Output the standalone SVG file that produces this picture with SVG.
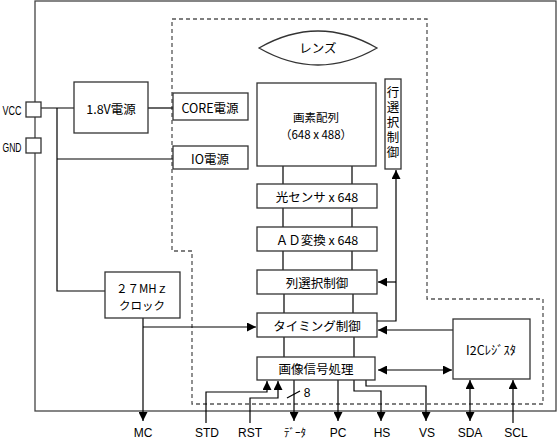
<svg xmlns="http://www.w3.org/2000/svg" width="558" height="441" viewBox="0 0 558 441">
<defs>
<marker id="ah" viewBox="0 0 10 10" refX="10" refY="5" markerWidth="9" markerHeight="9" markerUnits="userSpaceOnUse" orient="auto-start-reverse">
<path d="M0,0 L10,5 L0,10 Z" fill="#000"/>
</marker>
<style>
.box{fill:#fff;stroke:#333;stroke-width:1.3}
.ln{fill:none;stroke:#000;stroke-width:1.2}
.gl{fill:none;stroke:#444;stroke-width:1.3}
.ar{fill:none;stroke:#000;stroke-width:1.2;marker-end:url(#ah)}
.t{font-family:"Noto Sans CJK JP","Liberation Sans",sans-serif;font-size:12.5px;fill:#000;text-anchor:middle;dominant-baseline:central}
.t2{font-family:"Noto Sans CJK JP","Liberation Sans",sans-serif;font-size:11.5px;fill:#000;text-anchor:middle;dominant-baseline:central}
.s{font-family:"Liberation Sans","Noto Sans CJK JP",sans-serif;font-size:12px;fill:#000;text-anchor:middle;dominant-baseline:central}
</style>
</defs>
<rect width="558" height="441" fill="#fff"/>
<g id="frame">
<rect x="35" y="1" width="521" height="410" class="gl"/>
<path d="M172,19 H427 V299 H543 V404 H192 V251 H172 Z" fill="none" stroke="#555" stroke-width="1.3" stroke-dasharray="4,3"/>
</g>
<g id="connectors">
<path class="ln" d="M41,108 H74"/>
<path class="ln" d="M57,108 V291 H105"/>
<path class="ln" d="M57,159 H173"/>
<path class="ln" d="M148,108 H173"/>
<path class="ln" d="M283,166 V184 M352,166 V184 M283,208 V227 M352,208 V227 M283,251 V270 M352,251 V270 M284,294 V313 M353,294 V313 M284,337 V357 M354,337 V357"/>
<path class="ar" d="M377,321 H396 V170"/>
<path class="ar" d="M396,282 H378"/>
<path class="ar" d="M453,330 H378"/>
<path class="ar" d="M378,370 H452" style="marker-start:url(#ah)"/>
<path class="ar" d="M143,318 V421"/>
<path class="ar" d="M143,327 H256"/>
<path class="ar" d="M206,423 V392 H267 V381"/>
<path class="ar" d="M250,423 V398 H278 V381"/>
<path class="ar" d="M294,380 V421"/>
<path class="ln" d="M287,398 L300,391"/>
<path class="ar" d="M338,380 V421"/>
<path class="ar" d="M354,380 V391 H381 V421"/>
<path class="ar" d="M366,380 V386 H426 V421"/>
<path class="ar" d="M470,400 V421"/>
<path class="ar" d="M470,400 V380"/>
<path class="ar" d="M513,423 V380"/>
</g>
<g id="pin-vcc"><rect x="26" y="102" width="15" height="15" class="box"/><text class="s" x="12" y="110" style="font-size:13px" textLength="19" lengthAdjust="spacingAndGlyphs">VCC</text></g>
<g id="pin-gnd"><rect x="26" y="138" width="15" height="15" class="box"/><text class="s" x="12" y="147" style="font-size:13px" textLength="19" lengthAdjust="spacingAndGlyphs">GND</text></g>
<g id="reg18"><rect x="74" y="82" width="74" height="51" class="box"/><text class="t" x="111" y="108">1.8V電源</text></g>
<g id="core"><rect x="173" y="93" width="75" height="27" class="box"/><text class="t" x="210" y="107">CORE電源</text></g>
<g id="io"><rect x="173" y="146" width="75" height="23" class="box"/><text class="t" x="210" y="158">IO電源</text></g>
<g id="lens"><path d="M259,48 Q318,14 377,48 Q318,82 259,48 Z" fill="#fff" stroke="#333" stroke-width="1.3"/><text class="t" x="318" y="47">レンズ</text></g>
<g id="pixel"><rect x="257" y="83" width="119" height="83" class="box"/><text class="t2" x="316" y="116.5">画素配列</text><text class="t2" x="316" y="133.5">（648 x 488）</text></g>
<g id="rowsel"><rect x="385" y="79" width="16" height="90" class="box"/>
<text x="393" y="86" style="writing-mode:vertical-rl;letter-spacing:2.5px;font-family:'Noto Sans CJK JP',sans-serif;font-size:12.5px;fill:#000">行選択制御</text></g>
<g id="sensor"><rect x="257" y="184" width="120" height="24" class="box"/><text class="t" x="317" y="196">光センサ x 648</text></g>
<g id="adc"><rect x="257" y="227" width="120" height="24" class="box"/><text class="t" x="317" y="239">ＡＤ変換 x 648</text></g>
<g id="colsel"><rect x="257" y="270" width="120" height="24" class="box"/><text class="t" x="317" y="282">列選択制御</text></g>
<g id="timing"><rect x="257" y="313" width="120" height="24" class="box"/><text class="t" x="317" y="325">タイミング制御</text></g>
<g id="isp"><rect x="257" y="357" width="118" height="23" class="box"/><text class="t" x="316" y="368">画像信号処理</text></g>
<g id="clock"><rect x="105" y="272" width="75" height="46" class="box"/><text class="t2" x="142" y="287.5">２７MHｚ</text><text class="t2" x="142" y="304.5">クロック</text></g>
<g id="i2c"><rect x="453" y="319" width="77" height="60" class="box"/><text class="t" x="491" y="349">I2Cﾚｼﾞｽﾀ</text></g>
<g id="labels">
<text class="s" x="307" y="393">8</text>
<text class="s" x="143" y="433">MC</text>
<text class="s" x="207" y="433">STD</text>
<text class="s" x="250" y="433">RST</text>
<text class="t" x="295" y="432" style="font-size:11px">ﾃﾞｰﾀ</text>
<text class="s" x="338" y="433">PC</text>
<text class="s" x="382" y="433">HS</text>
<text class="s" x="427" y="433">VS</text>
<text class="s" x="470" y="433">SDA</text>
<text class="s" x="516" y="433">SCL</text>
</g>
</svg>
